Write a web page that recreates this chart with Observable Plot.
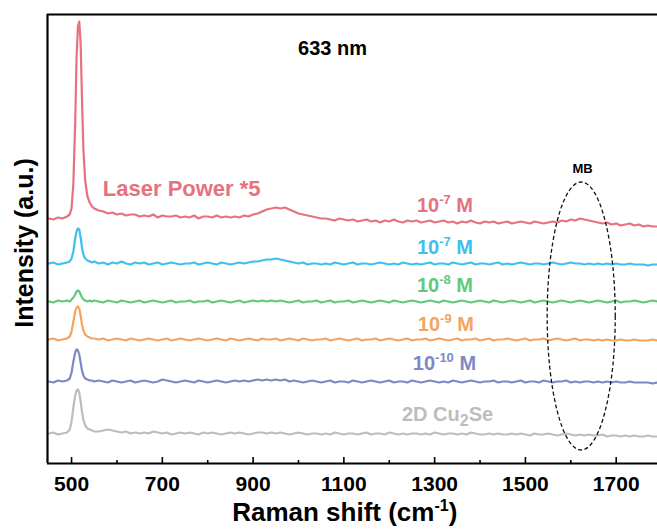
<!DOCTYPE html>
<html>
<head>
<meta charset="utf-8">
<script src="https://cdn.jsdelivr.net/npm/d3@7"></script>
<script src="https://cdn.jsdelivr.net/npm/@observablehq/plot@0.6"></script>
<style>
  html, body { margin: 0; padding: 0; background: #fff; }
  #chart svg { display: block; }
</style>
</head>
<body>
<div id="chart"></div>
<script>
// Raman shift grid (cm^-1)
const ramanShift = [
  450,460,470,480,490,496,500,504,508,511,514,517,520,523,526,530,535,540,545,550,
  560,570,580,590,600,610,620,630,640,650,
  660,670,680,690,700,710,720,730,740,750,
  760,770,780,790,800,810,820,830,840,850,
  860,870,880,890,900,910,920,930,940,950,
  960,970,980,990,1000,1010,1020,1030,1040,1050,
  1060,1070,1080,1090,1100,1110,1120,1130,1140,1150,
  1160,1170,1180,1190,1200,1210,1220,1230,1240,1250,
  1260,1270,1280,1290,1300,1310,1320,1330,1340,1350,
  1360,1370,1380,1390,1400,1410,1420,1430,1440,1450,
  1460,1470,1480,1490,1500,1510,1520,1530,1540,1550,
  1560,1570,1580,1590,1600,1610,1620,1630,1640,1650,
  1660,1670,1680,1690,1700,1710,1720,1730,1740,1750,
  1760,1770,1780,1790
];

// Intensities (a.u., relative to each trace's own baseline)
const laserPower5 = [
  0,-1,1,0,2,4,10,35,95,160,192,197,175,120,70,38,22,16,12,10,
  8,7,5,6,4,5,3,4,4,2,
  3,2,4,1,3,2,2,3,1,2,
  1,3,0,2,2,1,3,1,2,1,
  2,1,3,2,4,5,7,9,10,11,
  10,11,9,7,5,4,3,2,1,0,
  0,-1,-2,0,-1,-2,-1,-3,-2,-1,
  -3,-2,-4,-2,-3,-1,-3,-4,-2,-3,
  -2,-4,-3,-2,-4,-3,-2,-4,-3,-5,
  -3,-4,-2,-4,-5,-3,-4,-3,-5,-4,
  -3,-5,-4,-3,-4,-5,-3,-4,-5,-4,
  -3,-4,-2,-3,-1,-2,0,-1,-2,-3,
  -4,-5,-4,-6,-5,-7,-6,-5,-7,-6,
  -8,-7,-8,-8
];
const mb1e7 = [
  0,1,-1,0,1,2,5,12,25,32,35,34,26,16,9,5,3,2,1,2,
  0,1,-1,1,0,2,0,-1,1,0,
  1,-1,0,1,-1,0,1,0,-1,0,
  0,1,-1,0,1,0,-1,1,0,-1,
  0,1,0,1,2,2,3,4,4,5,
  4,3,2,1,0,1,-1,0,0,-1,
  0,-1,1,0,-1,0,1,-1,0,0,
  -1,0,1,0,-1,0,-1,1,0,-1,
  0,-1,0,1,-1,0,0,-1,1,0,
  -1,0,1,-1,0,0,-1,0,1,-1,
  0,-1,0,1,0,-1,0,0,-1,0,
  1,0,-1,0,1,0,0,-1,0,-1,
  0,-1,0,-1,0,-1,-1,0,-1,-1,
  -1,-2,-1,-1
];
const mb1e8 = [
  0,-1,1,0,1,0,2,4,7,10,11,10,7,4,2,1,0,1,0,1,
  0,-1,1,0,-1,1,0,-1,0,1,
  -1,0,1,0,-1,0,1,-1,0,0,
  1,-1,0,0,1,-1,0,1,0,-1,
  0,1,-1,0,1,0,1,0,1,0,
  1,0,-1,0,1,-1,0,0,1,-1,
  0,1,-1,0,0,1,-1,0,1,0,
  -1,0,1,0,-1,1,0,-1,0,1,
  0,-1,0,1,0,-1,1,0,-1,0,
  1,0,-1,0,1,0,-1,1,0,-1,
  0,1,0,-1,0,1,-1,0,1,0,
  -1,0,1,0,-1,0,1,0,-1,0,
  1,0,-1,0,1,-1,0,0,1,0,
  -1,0,1,0
];
const mb1e9 = [
  0,1,-1,0,1,3,8,18,28,32,33,31,24,15,9,5,3,2,1,1,
  0,1,-1,0,1,0,-1,1,0,-1,
  0,1,0,-1,0,1,-1,0,1,0,
  -1,0,1,0,-1,0,1,0,-1,1,
  0,-1,0,1,0,-1,1,0,0,1,
  -1,0,1,0,-1,1,0,-1,0,0,
  1,-1,0,1,0,-1,0,1,-1,0,
  0,1,-1,0,1,0,-1,0,1,-1,
  0,0,1,-1,0,1,0,-1,0,1,
  -1,0,0,1,-1,0,1,-1,0,0,
  1,0,-1,0,1,-1,0,0,1,-1,
  0,1,0,-1,0,1,-1,0,0,-1,
  0,-1,0,-1,-1,0,-1,-1,0,-1,
  -1,-1,0,-1
];
const mb1e10 = [
  0,-1,1,0,1,3,9,20,29,32,31,27,19,11,6,3,2,1,1,0,
  1,0,-1,1,0,-1,0,1,-1,0,
  1,0,-1,0,2,1,0,-1,0,1,
  0,-1,1,0,-1,0,1,0,-1,0,
  1,0,1,0,1,2,1,2,1,2,
  1,2,0,1,0,-1,0,1,0,-1,
  0,1,-1,0,0,-1,1,0,-1,0,
  1,0,-1,0,1,-1,0,0,-1,1,
  0,-1,0,1,0,-1,0,-1,1,0,
  -1,0,1,0,-1,0,0,1,-1,0,
  0,-1,0,1,-1,0,0,-1,1,0,
  -1,0,0,1,-1,0,-1,0,0,-1,
  0,-1,0,-1,0,-1,-1,0,-1,-1,
  -1,-1,-2,-1
];
const cu2se = [
  0,1,-1,0,1,4,12,26,38,43,44,41,32,22,14,8,5,4,3,2,
  2,3,4,3,2,1,2,0,1,0,
  1,0,2,1,0,1,-1,0,1,0,
  1,0,-1,1,0,1,0,-1,0,1,
  0,1,0,-1,0,1,1,0,1,0,
  1,0,-1,0,1,0,-1,0,0,-1,
  0,-1,1,0,-1,0,0,-1,0,1,
  -1,0,0,-1,1,0,-1,0,-1,0,
  0,-1,0,-1,1,0,-1,0,0,-1,
  0,-1,1,0,-1,-1,0,-1,0,-1,
  -1,0,-1,0,-1,-2,0,-1,-1,0,
  -1,-2,-1,0,-1,-2,-1,-2,-1,-2,
  -2,-1,-3,-2,-2,-3,-2,-3,-2,-3,
  -3,-2,-3,-3
];

const seriesNames  = ["Laser Power *5", "1e-7", "1e-8", "1e-9", "1e-10", "2D Cu2Se"];
const seriesValues = [laserPower5, mb1e7, mb1e8, mb1e9, mb1e10, cu2se];
const seriesOffset = [245, 200, 162, 124, 82, 30];
const seriesColor  = ["#e5727e", "#3fbff0", "#5fca7a", "#f4a462", "#7f88c6", "#bdbdbd"];

const majorTicks = [500, 700, 900, 1100, 1300, 1500, 1700];
const minorTicks = [600, 800, 1000, 1200, 1400, 1600];

// labels: text parts, x (cm^-1), y (a.u.), colour index
const labels = [
  {parts: [["Laser Power *5", ""]], x: 570, y: 267, c: 0, size: 22},
  {parts: [["10", ""], ["-7", "sup"], [" M", ""]], x: 1262, y: 251, c: 0, size: 20},
  {parts: [["10", ""], ["-7", "sup"], [" M", ""]], x: 1262, y: 209, c: 1, size: 20},
  {parts: [["10", ""], ["-8", "sup"], [" M", ""]], x: 1262, y: 171, c: 2, size: 20},
  {parts: [["10", ""], ["-9", "sup"], [" M", ""]], x: 1264, y: 132, c: 3, size: 20},
  {parts: [["10", ""], ["-10", "sup"], [" M", ""]], x: 1253, y: 93, c: 4, size: 20},
  {parts: [["2D Cu", ""], ["2", "sub"], ["Se", ""]], x: 1229, y: 42, c: 5, size: 20}
];

const rows = [];
seriesNames.forEach((name, s) => {
  const vals = seriesValues[s];
  if (vals.length !== ramanShift.length) console.error(name, vals.length, ramanShift.length);
  ramanShift.forEach((x, i) => rows.push({series: name, x, y: seriesOffset[s] + vals[i]}));
});

const xDomain = [447, 1791];
const yDomain = [0, 449];
const font = "'Liberation Sans', Arial, Helvetica, sans-serif";

const plot = Plot.plot({
  width: 657,
  height: 529,
  marginLeft: 47,
  marginRight: 0,
  marginTop: 14,
  marginBottom: 66,
  style: {fontFamily: font, background: "#fff"},
  x: {domain: xDomain, axis: null},
  y: {domain: yDomain, axis: null},
  color: {domain: seriesNames, range: seriesColor},
  marks: [
    Plot.line(rows, {x: "x", y: "y", z: "series", stroke: "series", strokeWidth: 2.2, curve: "linear"}),
    Plot.ruleY([0], {stroke: "#000", strokeWidth: 2.2}),
    Plot.ruleY([449], {stroke: "#000", strokeWidth: 2.2}),
    Plot.ruleX([447], {stroke: "#000", strokeWidth: 2.2}),
    Plot.ruleX(majorTicks, {x: d => d, y1: 0, y2: 6, stroke: "#000", strokeWidth: 1.6}),
    Plot.ruleX(minorTicks, {x: d => d, y1: 0, y2: 3, stroke: "#000", strokeWidth: 1.6}),
    Plot.text(majorTicks, {x: d => d, y: 0, dy: 21, text: d => String(d), fontSize: 21, fontWeight: "bold", fill: "#000"}),
    Plot.text(["633 nm"], {x: 1075, y: 415, text: d => d, fontSize: 20, fontWeight: "bold", fill: "#000"}),
    Plot.text(["MB"], {x: 1626, y: 295, text: d => d, fontSize: 13, fontWeight: "bold", fill: "#000"})
  ]
});

document.getElementById("chart").appendChild(plot);

const sx = plot.scale("x"), sy = plot.scale("y");
const svg = d3.select(plot);

// dashed ellipse around MB region
const ecx = 1624, erx = 75, ecy = 147, ery = 134;
svg.append("ellipse")
  .attr("cx", sx.apply(ecx))
  .attr("cy", sy.apply(ecy))
  .attr("rx", sx.apply(ecx + erx) - sx.apply(ecx))
  .attr("ry", Math.abs(sy.apply(ecy - ery) - sy.apply(ecy)))
  .attr("fill", "none").attr("stroke", "#111").attr("stroke-width", 1.3)
  .attr("stroke-dasharray", "4,2.5");

// rich-text series labels
labels.forEach(l => {
  const t = svg.append("text")
    .attr("x", sx.apply(l.x)).attr("y", sy.apply(l.y))
    .attr("text-anchor", "start")
    .attr("font-family", font).attr("font-weight", "bold")
    .attr("font-size", l.size).attr("fill", seriesColor[l.c]);
  let shift = 0;
  l.parts.forEach(([s, kind]) => {
    const target = kind === "sup" ? -8 : kind === "sub" ? 5 : 0;
    t.append("tspan").attr("dy", target - shift)
      .attr("font-size", kind === "sup" ? 13 : kind === "sub" ? 16 : l.size).text(s);
    shift = target;
  });
});

// axis titles
const xt = svg.append("text")
  .attr("x", sx.apply(1103)).attr("y", 521)
  .attr("text-anchor", "middle").attr("font-family", font)
  .attr("font-weight", "bold").attr("font-size", 26).attr("fill", "#000");
xt.append("tspan").text("Raman shift (cm");
xt.append("tspan").attr("dy", -10).attr("font-size", 16).text("-1");
xt.append("tspan").attr("dy", 10).text(")");

svg.append("text")
  .attr("transform", `translate(33, ${sy.apply(220)}) rotate(-90)`)
  .attr("text-anchor", "middle").attr("font-family", font)
  .attr("font-weight", "bold").attr("font-size", 25).attr("fill", "#000")
  .text("Intensity (a.u.)");
</script>
</body>
</html>
